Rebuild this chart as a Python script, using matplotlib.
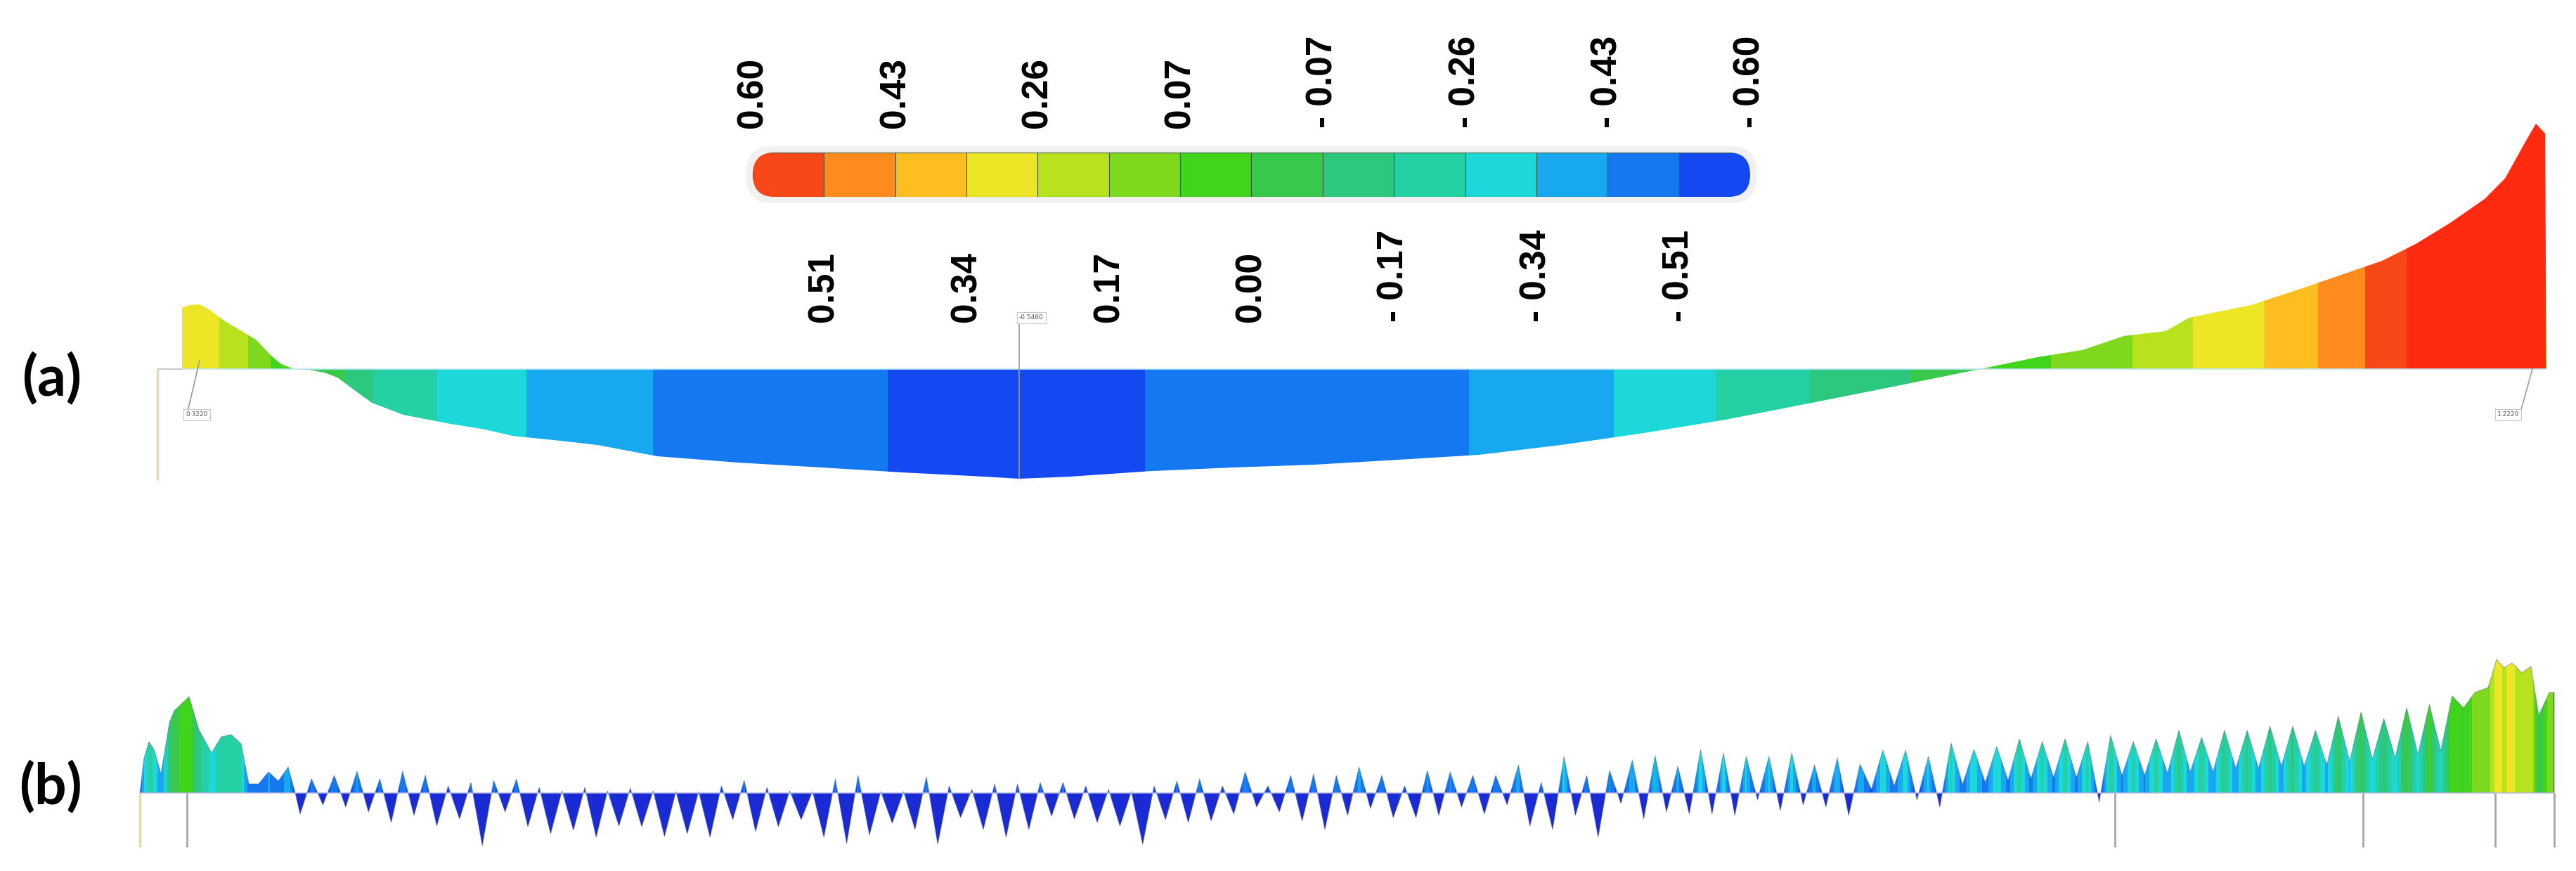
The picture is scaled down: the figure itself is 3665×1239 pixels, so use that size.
import numpy as np
import matplotlib
matplotlib.use('Agg')
import matplotlib.pyplot as plt
from matplotlib.colors import ListedColormap, BoundaryNorm
from matplotlib.patches import Polygon, FancyBboxPatch
from matplotlib.transforms import blended_transform_factory

W, H, DPI = 3666, 1239, 100

# ─────────────────────────────────────────────
# Colour scale (from -0.60 up to 0.60)
# ─────────────────────────────────────────────
CB_BOUNDS = [-0.60, -0.51, -0.43, -0.34, -0.26, -0.17, -0.07, 0.00,
             0.07, 0.17, 0.26, 0.34, 0.43, 0.51, 0.60]
CB_COLORS = ['#1448f0', '#1478f0', '#18a8f0', '#1cd8d8', '#24d0a4', '#2cc880',
             '#38c84a', '#40d41a', '#7ed81e', '#b8e21e', '#ece627', '#ffbe20',
             '#ff8c1c', '#f84818']
TOP_LABELS = ["0.60", "0.43", "0.26", "0.07", "- 0.07", "- 0.26", "- 0.43", "- 0.60"]
BOTTOM_LABELS = ["0.51", "0.34", "0.17", "0.00", "- 0.17", "- 0.34", "- 0.51"]

CMAP = ListedColormap(CB_COLORS)
CMAP.set_over('#ff2a10')
CMAP.set_under('#1a2ad4')
NORM = BoundaryNorm(CB_BOUNDS, ncolors=len(CB_COLORS))

# ─────────────────────────────────────────────
# Panel (a): smooth response along the deck (station in m)
# ─────────────────────────────────────────────
a_station = np.array([25.9, 25.9, 27.0, 28.4, 29.7, 32.0, 34.2, 36.4, 38.7, 40.0,
                      41.8, 44.0, 46.2, 48.0, 50.7, 52.9, 57.4, 64.1, 68.6, 73.0,
                      79.7, 85.0, 93.5, 105.2, 116.9, 128.6, 140.3, 145.0, 152.0, 163.7,
                      175.4, 187.0, 198.7, 210.4, 222.1, 233.8, 245.5, 257.2, 268.9, 281.7,
                      290.0, 296.3, 302.2, 308.1, 311.5, 320.3, 327.6, 338.9, 343.7, 348.6,
                      353.5, 356.4, 359.4, 360.8, 362.1, 362.3])
a_value = np.array([0, 0.305, 0.319, 0.322, 0.298, 0.238, 0.193, 0.147, 0.063, 0.025,
                    0, -0.004, -0.018, -0.042, -0.112, -0.168, -0.228, -0.273, -0.298, -0.333,
                    -0.357, -0.378, -0.434, -0.466, -0.490, -0.515, -0.536, -0.546, -0.536, -0.508,
                    -0.490, -0.476, -0.452, -0.427, -0.378, -0.319, -0.252, -0.172, -0.091, 0,
                    0.060, 0.095, 0.165, 0.189, 0.256, 0.319, 0.403, 0.539, 0.623, 0.728,
                    0.847, 0.949, 1.138, 1.222, 1.173, 0])
a_support = [22.4]
A_PX = 285.7      # pixels per unit of a_value

# ─────────────────────────────────────────────
# Panel (b): oscillating response
# ─────────────────────────────────────────────
b_head_station = [19.9, 20.5, 21.2, 22.0, 22.9, 24.1, 24.8, 26.9, 28.3, 30.1,
                  31.5, 32.9, 34.3, 35.4, 36.8, 38.2, 39.6, 41.0, 42.0]
b_head_value = [0, 50, 73, 60, 27, 100, 117, 137, 90, 57,
                80, 83, 70, 13, 13, 30, 17, 37, 0]

B_X0 = 42.7       # first trough station
B_PITCH = 3.24    # spacing of the oscillation cycles

b_trough = [-30, -17, -20, -27, -42, -32, -47, -37, -75, -27,
            -48, -58, -53, -63, -47, -48, -62, -58, -63, -38,
            -55, -48, -38, -63, -72, -60, -43, -52, -73, -35,
            -52, -63, -52, -33, -37, -42, -47, -73, -38, -42,
            -40, -30, -20, -27, -40, -52, -32, -22, -35, -35,
            -32, -20, -30, -17, -47, -52, -32, -63, -15, -37,
            -27, -30, -30, -32, -10, -25, -17, -20, -32, 5,
            10, -10, -20, 12, 15, 18, 20, 22, 22, -13,
            25, 25, 28, 30, 30, 35, 35, 38, 38, 40,
            45, 48, 50, 55, 60, 121]
b_peak = [20, 25, 31, 20, 31, 25, 10, 15, 18, 20,
          8, 3, 8, 3, 7, 3, 2, 2, 10, 18,
          8, 3, 2, 20, 25, 2, 2, 23, 10, 5,
          13, 13, 15, 15, 10, 5, 2, 10, 17, 20,
          10, 30, 10, 25, 27, 25, 37, 25, 10, 32,
          30, 25, 25, 40, 15, 52, 25, 32, 47, 53,
          38, 62, 57, 52, 52, 57, 40, 50, 41, 61,
          61, 52, 71, 62, 66, 77, 73, 77, 73, 82,
          73, 77, 89, 79, 89, 89, 95, 95, 89, 109,
          115, 106, 121, 126, 138, 143]

b_tail_station = [354.0, 355.2, 356.3, 357.4, 358.8, 360.1, 361.2, 362.7, 363.4, 363.4]
b_tail_value = [150, 190, 178, 185, 171, 180, 110, 143, 143, 0]

b_support = [19.9, 26.6, 300.9, 336.2, 355.0, 363.4]

# colour value of panel (b) = (value - centre) / span
B_CENTRE, B_SPAN = 123.0, 220.0

k = np.arange(len(b_peak))
trough_st = B_X0 + k * B_PITCH
peak_st = trough_st + B_PITCH / 2
b_station = np.concatenate([b_head_station,
                            np.column_stack([trough_st, peak_st]).ravel(),
                            b_tail_station])
b_value = np.concatenate([b_head_value,
                          np.column_stack([b_trough, b_peak]).ravel(),
                          b_tail_value]).astype(float)


def colour_fill(ax, x, v, to_scale, ncols=5000):
    """Fill between curve and zero, coloured column by column."""
    verts = np.column_stack([np.r_[x[0], x, x[-1]], np.r_[0, v, 0]])
    poly = Polygon(verts, closed=True, facecolor='none', edgecolor='none')
    ax.add_patch(poly)
    xs = np.linspace(x.min(), x.max(), ncols)
    rgba = CMAP(NORM(to_scale(np.interp(xs, x, v))))
    im = ax.imshow(rgba[np.newaxis, :, :], extent=[x.min(), x.max(), v.min(), v.max()],
                   aspect='auto', interpolation='nearest', origin='lower', zorder=2)
    im.set_clip_path(poly)
    return poly


fig = plt.figure(figsize=(W / DPI, H / DPI), dpi=DPI)
fig.patch.set_facecolor('white')

# ── colour bar ──
ax_cb = fig.add_axes([1071 / W, 1 - 280 / H, 1419 / W, 63 / H])
ax_cb.set_xlim(0, len(CB_COLORS))
ax_cb.set_ylim(0, 1)
ax_cb.axis('off')
halo = FancyBboxPatch((-0.1, -0.14), len(CB_COLORS) + 0.2, 1.28,
                      boxstyle="round,pad=0,rounding_size=0.35", mutation_aspect=1.8,
                      facecolor='#f1f1f1', edgecolor='none', zorder=0, clip_on=False,
                      transform=ax_cb.transData)
ax_cb.add_patch(halo)
clip = FancyBboxPatch((0, 0), len(CB_COLORS), 1,
                      boxstyle="round,pad=0,rounding_size=0.3", mutation_aspect=1.67,
                      facecolor='none', edgecolor='none', transform=ax_cb.transData)
ax_cb.add_patch(clip)
bars = ax_cb.bar(np.arange(len(CB_COLORS)) + 0.5, 1, width=1,
                 color=CB_COLORS[::-1], edgecolor='#3a5a3a', linewidth=0.8, zorder=2)
for b in bars:
    b.set_clip_path(clip)

trans = blended_transform_factory(ax_cb.transData, ax_cb.transAxes)
lab_kw = dict(rotation=90, ha='center', va='bottom', fontsize=37,
              fontweight='bold', family='Liberation Sans', color='black', transform=trans)
for i, lab in enumerate(TOP_LABELS):
    ax_cb.text(2 * i, 1.556, lab, **lab_kw)
for i, lab in enumerate(BOTTOM_LABELS):
    ax_cb.text(2 * i + 1, -2.825, lab, **lab_kw)

# ── panel (a) ──
ax_a = fig.add_axes([0, 1 - 720 / H, 1, 570 / H])
colour_fill(ax_a, a_station, a_value, lambda v: v)
ax_a.hlines(0, a_support[0], a_station[0], color='#c8c8c8', lw=1.5, zorder=3)
ax_a.hlines(0, a_station[0], a_station[-1], color='#bfe6f7', lw=1.5, alpha=0.8, zorder=3)
ax_a.vlines(a_support, -158 / A_PX, 0, color='#e2dab0', lw=2.5, zorder=3)

ann_kw = dict(fontsize=6.5, color='#555555', family='DejaVu Sans', zorder=5,
              bbox=dict(boxstyle='square,pad=0.35', fc='white', ec='#c8c8c8', lw=0.8))
lead_kw = dict(color='#9a9a9a', lw=1.2, zorder=4)

left_part = a_station < 100
i_left = np.argmax(np.where(left_part, a_value, -np.inf))
xl = a_station[i_left]
ax_a.plot([xl, xl - 1.6], [12 / A_PX, -56 / A_PX], **lead_kw)
ax_a.text(xl - 2.0, -65 / A_PX, f"{a_value[i_left]:.4f}", ha='left', va='center', **ann_kw)

i_min = np.argmin(a_value)
xm = a_station[i_min]
ax_a.plot([xm, xm], [a_value[i_min], 71 / A_PX], **lead_kw)
ax_a.text(xm, 73 / A_PX, f"{a_value[i_min]:.4f}", ha='left', va='center', **ann_kw)

i_max = np.argmax(a_value)
xr = a_station[i_max]
ax_a.plot([xr - 0.5, xr - 2.2], [0.0, -61 / A_PX], **lead_kw)
ax_a.text(xr - 2.4, -65 / A_PX, f"{a_value[i_max]:.4f}", ha='right', va='center', **ann_kw)

ax_a.set_xlim(0, W / 10)
ax_a.set_ylim(-195 / A_PX, 375 / A_PX)
ax_a.axis('off')

# ── panel (b) ──
ax_b = fig.add_axes([0, 0, 1, 339 / H])
colour_fill(ax_b, b_station, b_value, lambda v: (v - B_CENTRE) / B_SPAN)
ax_b.plot(b_station, b_value, color='#4a5a7a', lw=0.8, alpha=0.45, zorder=3)
ax_b.hlines(0, b_station[0], b_station[-1], color='#b4b4e4', lw=1.5, alpha=0.7, zorder=3)
ax_b.vlines(b_support[:1], -77, 0, color='#e2dab0', lw=2.5, zorder=4)
ax_b.vlines(b_support[1:], -77, 0, color='#a4a4b4', lw=2.0, zorder=4)
ax_b.set_xlim(0, W / 10)
ax_b.set_ylim(-111, 228)
ax_b.axis('off')

# ── panel letters ──
fig.text(74 / W, 1 - 539 / H, "(a)", ha='center', va='center', fontsize=58,
         fontweight='bold', family='Lato')
fig.text(72 / W, 1 - 1120 / H, "(b)", ha='center', va='center', fontsize=58,
         fontweight='bold', family='Lato')

fig.savefig("out.png", dpi=DPI, facecolor='white')
